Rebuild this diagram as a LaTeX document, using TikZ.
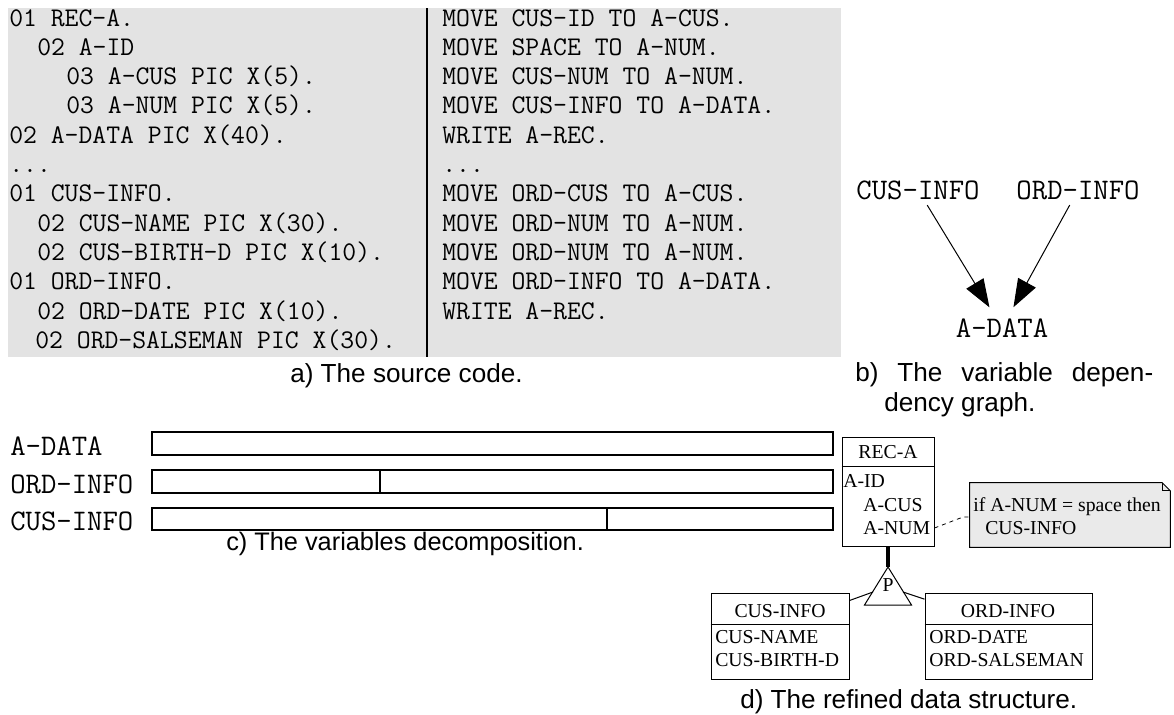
\documentclass[tikz,border=0pt]{standalone}
\usepackage{fontspec}
\setmainfont{Liberation Serif}
\setsansfont{Liberation Sans}
\usetikzlibrary{arrows.meta}

\definecolor{codebg}{HTML}{E3E3E3}
\definecolor{notebg}{HTML}{EAEAEA}
\newcommand{\codefont}{\ttfamily\fontsize{20.2}{24}\selectfont}
\newcommand{\varfont}{\ttfamily\fontsize{22.4}{26}\selectfont}
\newcommand{\capfont}{\sffamily\fontsize{19.6}{24}\selectfont}
\newcommand{\erfont}{\rmfamily\fontsize{14.8}{18}\selectfont}
\newcommand{\elided}{...}

\begin{document}
\begin{tikzpicture}[
    x=0.75pt, y=-0.75pt,
    % Estilos
    code text/.style={anchor=base west, inner sep=0pt, font=\codefont},
    var text/.style={anchor=base west, inner sep=0pt, font=\varfont},
    graph node/.style={inner sep=4pt, font=\varfont},
    caption text/.style={anchor=base west, inner sep=0pt, font=\capfont},
    er text/.style={anchor=base west, inner sep=0pt, font=\erfont},
    er title/.style={anchor=base, inner sep=0pt, font=\erfont},
    er box/.style={draw, line width=0.75pt, inner sep=0pt},
    er line/.style={line width=0.75pt},
    dep edge/.style={-{Triangle[length=21pt, width=15pt]}, line width=0.75pt, shorten >=5pt}, % dependencia
    bar/.style={draw, line width=1.5pt},
    note link/.style={dashed, line width=0.6pt}
]
    \useasboundingbox (0,0) rectangle (1174,714);

    % =========================================================================
    % a) Codigo fuente
    % =========================================================================
    \fill[codebg] (8,8) rectangle (841,357);
    \draw[line width=1.5pt] (427,8) -- (427,357);

    % Columna izquierda (declaraciones)
    \foreach \ind/\txt [count=\i] in {
        0/01 REC-A., 28/02 A-ID, 57/03 A-CUS PIC X(5)., 57/03 A-NUM PIC X(5).,
        0/02 A-DATA PIC X(40)., 0/\elided, 0/01 CUS-INFO., 28/02 CUS-NAME PIC X(30).,
        28/02 CUS-BIRTH-D PIC X(10)., 0/01 ORD-INFO., 28/02 ORD-DATE PIC X(10).,
        26/02 ORD-SALSEMAN PIC X(30).} {
        \node[code text] (decl\i) at ({9+\ind}, {26+29.3*(\i-1)}) {\txt};
    }

    % Columna derecha (instrucciones)
    \foreach \txt [count=\i] in {
        MOVE CUS-ID TO A-CUS., MOVE SPACE TO A-NUM., MOVE CUS-NUM TO A-NUM.,
        MOVE CUS-INFO TO A-DATA., WRITE A-REC., \elided, MOVE ORD-CUS TO A-CUS.,
        MOVE ORD-NUM TO A-NUM., MOVE ORD-NUM TO A-NUM.,
        MOVE ORD-INFO TO A-DATA., WRITE A-REC.} {
        \node[code text] (stmt\i) at ({442}, {26+29.3*(\i-1)}) {\txt};
    }

    \node[caption text] (capA) at (290,382) {a) The source code.};

    % =========================================================================
    % b) Grafo de dependencias
    % =========================================================================
    \node[graph node] (gcus) at (918,190) {CUS-INFO};
    \node[graph node] (gord) at (1078,190) {ORD-INFO};
    \node[graph node] (gdata) at (1002,328) {A-DATA};
    \draw[dep edge] (gcus) -- (gdata);
    \draw[dep edge] (gord) -- (gdata);

    \node[caption text] (capB) at (855,381) {\makebox[223.5pt][s]{b) The variable depen-}};
    \node[caption text] (capB2) at (884,411) {dency graph.};

    % =========================================================================
    % c) Descomposicion de variables
    % =========================================================================
    \node[var text] (ldata) at (10,455) {A-DATA};
    \node[var text] (lord) at (10,493) {ORD-INFO};
    \node[var text] (lcus) at (10,530) {CUS-INFO};

    \draw[bar] (152,432) rectangle (833,455);
    \draw[bar] (152,470) rectangle (833,493);
    \draw[bar] (380,470) -- (380,493);
    \draw[bar] (152,508) rectangle (833,530);
    \draw[bar] (607,508) -- (607,530);

    \node[caption text, font=\sffamily\fontsize{19}{23}\selectfont] (capC) at (226,550) {c) The variables decomposition.};

    % =========================================================================
    % d) Estructura de datos refinada
    % =========================================================================
    \node[er box, minimum width=69pt, minimum height=81.75pt] (recA) at (888,491.5) {};
    \draw[er line] ([yshift=-22.5pt]recA.north west) -- ([yshift=-22.5pt]recA.north east);
    \node[er title] at (888,458) {REC-A};
    \node[er text] at (843,487) {A-ID};
    \node[er text] at (863,511) {A-CUS};
    \node[er text] at (863,534) {A-NUM};

    % Nota con esquina doblada
    \node[minimum width=150pt, minimum height=48pt, inner sep=0pt] (note) at (1070,515) {};
    \draw[er line, fill=notebg] (note.south west) -- (note.north west)
        -- ([xshift=-6pt]note.north east) -- ([yshift=-6pt]note.north east)
        -- (note.south east) -- cycle;
    \draw[er line] ([xshift=-6pt]note.north east) -- ([xshift=-6pt, yshift=-6pt]note.north east)
        -- ([yshift=-6pt]note.north east);
    \node[er text] at (973,511) {if A-NUM = space then};
    \node[er text] at (985,534) {CUS-INFO};
    \draw[note link] (recA.east |- 0,528) -- (963,517) -- (note.west |- 0,517);

    % Particion (triangulo P)
    \coordinate (tri top) at (888,567);
    \coordinate (tri left) at (873,592);
    \coordinate (tri right) at (903,592);
    \draw[line width=3pt] (recA.south) -- (tri top);
    \draw[er line] (tri top) -- ++(-23.5,38) -- ++(47,0) -- cycle;
    \node[er title] (tri) at (888,591) {P};

    \node[er box, minimum width=103.5pt, minimum height=64.5pt] (cus) at (780,636) {};
    \draw[er line] ([yshift=-24pt]cus.north west) -- ([yshift=-24pt]cus.north east);
    \node[er title] at (780,617) {CUS-INFO};
    \node[er text] at (715,643) {CUS-NAME};
    \node[er text] at (715,666) {CUS-BIRTH-D};

    \node[er box, minimum width=125.25pt, minimum height=64.5pt] (ord) at (1008.5,636) {};
    \draw[er line] ([yshift=-24pt]ord.north west) -- ([yshift=-24pt]ord.north east);
    \node[er title] at (1008,617) {ORD-INFO};
    \node[er text] at (929,643) {ORD-DATE};
    \node[er text] at (929,666) {ORD-SALSEMAN};

    \draw[er line] (tri left) -- ([yshift=-6pt]cus.north east);
    \draw[er line] (tri right) -- ([yshift=-5pt]ord.north west);

    \node[caption text] (capD) at (740,708) {d) The refined data structure.};

\end{tikzpicture}
\end{document}
